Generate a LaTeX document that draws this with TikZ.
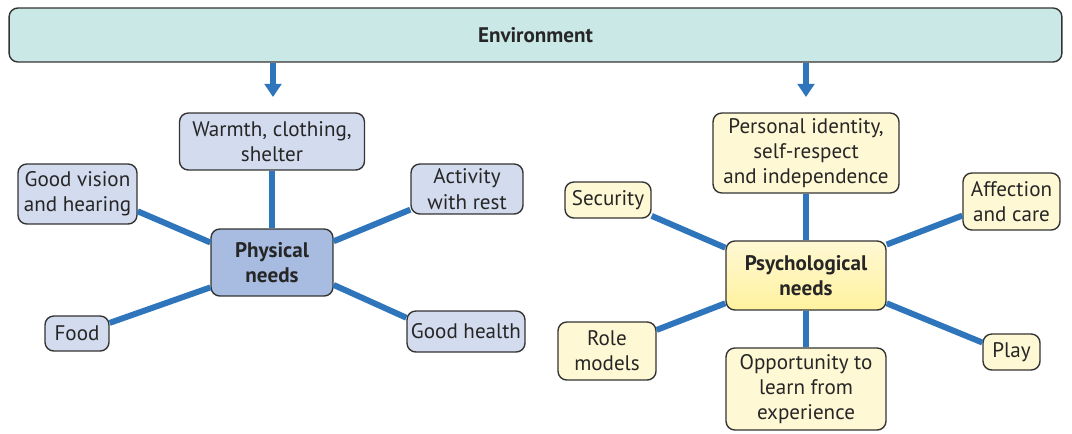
\documentclass[tikz,border=0pt]{standalone}
\usepackage{fontspec}
\setmainfont{PT Sans}
\usepackage{tikz}
\usetikzlibrary{arrows.meta}
\definecolor{borda}{HTML}{333333}
\definecolor{azul}{HTML}{2E75BC}
\definecolor{ambiente}{HTML}{CAE8E5}
\definecolor{fisico}{HTML}{D3DCEF}
\definecolor{fisicoc}{HTML}{A8BBE1}
\definecolor{psico}{HTML}{FFF8D4}
\definecolor{psicoc}{HTML}{FFF29E}

\begin{document}
\begin{tikzpicture}[x=0.02cm,y=-0.02cm, font=\fontsize{12}{14.4}\selectfont,
    box/.style={draw=borda, line width=0.8pt, rounded corners=5pt, fill=#1, text=black!85, align=center, inner sep=1pt},
    hub/.style={box=#1, font=\fontsize{12}{14.4}\selectfont\bfseries},
    spoke/.style={line width=3.4pt, azul},
    seta/.style={-{Triangle[length=7.5pt,width=9.5pt]}, line width=3.4pt, azul}]
  \useasboundingbox (0,0) rectangle (1072,433);
  \node[hub=ambiente, minimum width=21.06cm, minimum height=1.08cm] (env) at (535.5,35) {Environment};
  % physical needs
  \node[hub=fisicoc, minimum width=2.44cm, minimum height=1.34cm] (phys) at (272,262.5) {Physical\\needs};
  \node[box=fisico, minimum width=3.7cm, minimum height=1.14cm] (warm) at (272,141.5) {Warmth, clothing,\\shelter};
  \node[box=fisico, minimum width=2.38cm, minimum height=1.2cm] (vis) at (77.5,194) {Good vision\\and hearing};
  \node[box=fisico, minimum width=2.24cm, minimum height=1.0cm] (act) at (467,189) {Activity\\with rest};
  \node[box=fisico, minimum width=1.28cm, minimum height=0.7cm] (food) at (77,333.5) {Food};
  \node[box=fisico, minimum width=2.36cm, minimum height=0.82cm] (health) at (466,331.5) {Good health};
  % psychological needs
  \node[hub=psicoc, top color=psico, bottom color=psicoc, minimum width=3.2cm, minimum height=1.38cm] (psych) at (806,275.5) {Psychological\\needs};
  \node[box=psico, minimum width=3.72cm, minimum height=1.6cm] (ident) at (806,153) {Personal identity,\\self-respect\\and independence};
  \node[box=psico, minimum width=1.72cm, minimum height=0.72cm] (sec) at (608,200) {Security};
  \node[box=psico, minimum width=1.94cm, minimum height=1.14cm] (aff) at (1011.5,201.5) {Affection\\and care};
  \node[box=psico, minimum width=1.96cm, minimum height=1.16cm] (role) at (607,351) {Role\\models};
  \node[box=psico, minimum width=3.2cm, minimum height=1.64cm] (opp) at (806,389) {Opportunity to\\learn from\\experience};
  \node[box=psico, minimum width=1.14cm, minimum height=0.72cm] (play) at (1011.5,352) {Play};
  \coordinate (pin1) at (273,97);
  \coordinate (pin2) at (806,97);
  \draw[seta] (env.south -| pin1) -- (pin1);
  \draw[seta] (env.south -| pin2) -- (pin2);
  \draw[spoke] (warm.south) -- (phys.north);
  \draw[spoke] (phys.162) -- (vis.-16);
  \draw[spoke] (phys.19) -- (act.200);
  \draw[spoke] (phys.202) -- (food.18);
  \draw[spoke] (phys.-20) -- (health.167);
  \draw[spoke] (ident.south) -- (psych.north);
  \draw[spoke] (psych.south) -- (opp.north);
  \draw[spoke] (psych.161) -- (sec.-20);
  \draw[spoke] (psych.21) -- (aff.196);
  \draw[spoke] (psych.199) -- (role.23);
  \draw[spoke] (psych.-19) -- (play.162);
\end{tikzpicture}
\end{document}
